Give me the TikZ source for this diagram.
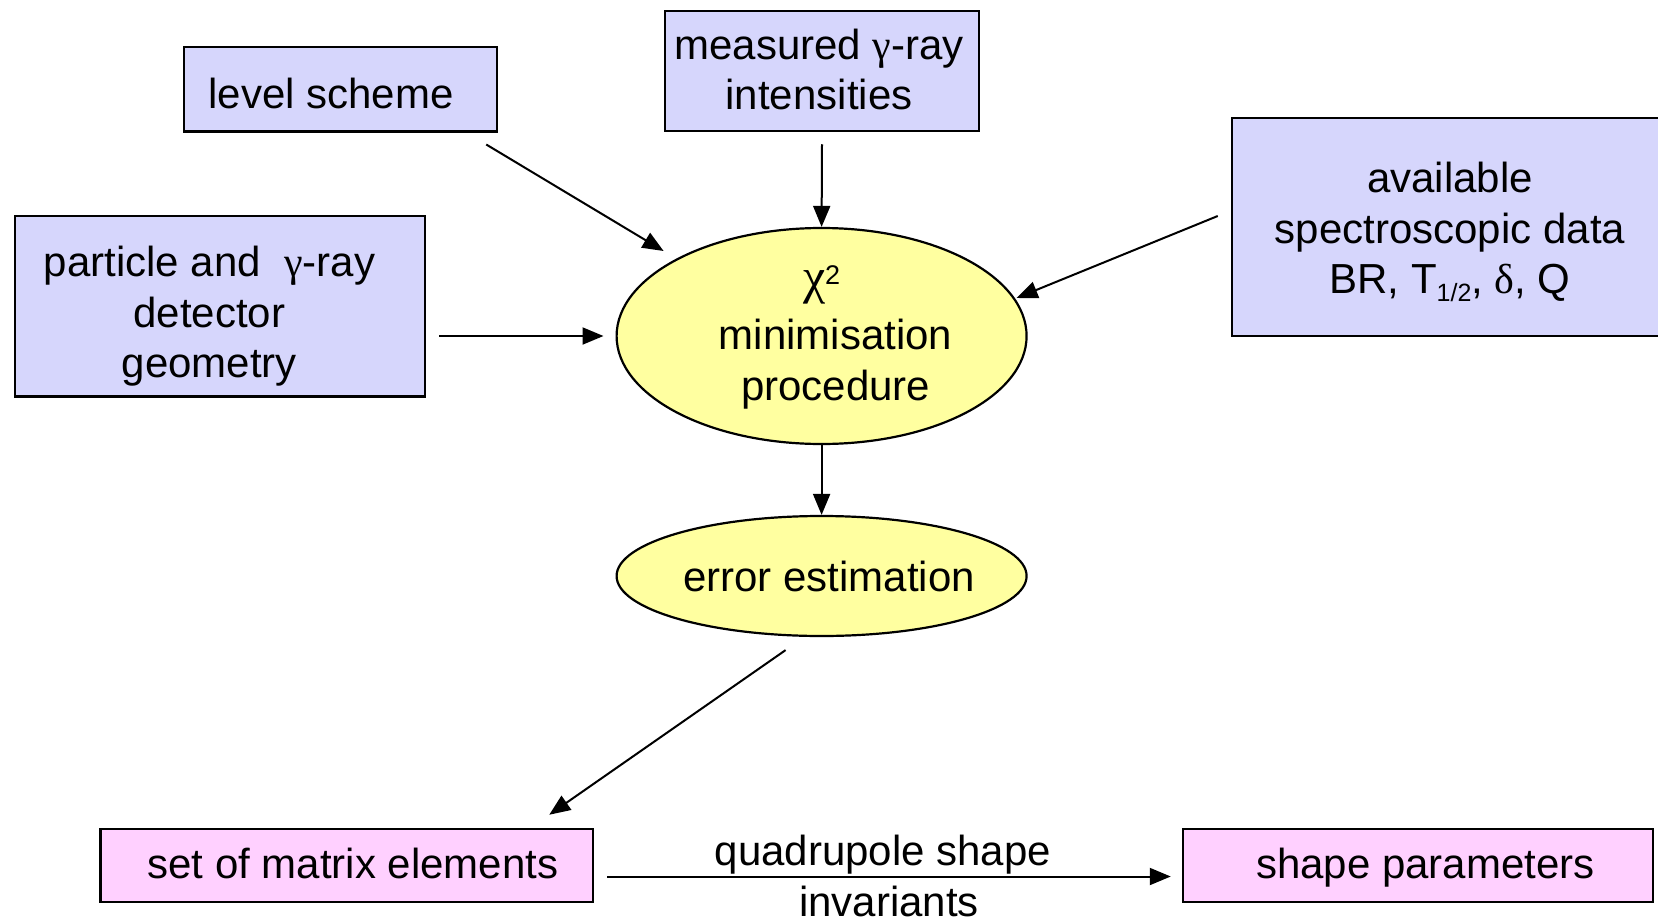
\documentclass[tikz,border=0pt]{standalone}
\usepackage{fontspec}
\setmainfont{Liberation Sans}
\newfontfamily\grk{Liberation Serif}
\usetikzlibrary{arrows.meta,shapes.geometric}
\definecolor{boxblue}{RGB}{214,214,252}
\definecolor{ellyellow}{RGB}{255,255,160}
\definecolor{boxpink}{RGB}{255,208,255}
\newcommand{\bigfont}{\fontsize{42}{50.5}\selectfont}
\begin{document}
\begin{tikzpicture}[x=1pt,y=-1pt,
  inbox/.style={draw=black, line width=2.5pt, fill=boxblue, inner sep=0pt},
  outbox/.style={draw=black, line width=2.5pt, fill=boxpink, inner sep=0pt},
  proc/.style={draw=black, line width=2.2pt, fill=ellyellow, ellipse, inner sep=0pt},
  txt/.style={align=center, font=\bigfont, inner sep=0pt},
  arr/.style={line width=2pt, -{Triangle[length=21pt,width=17pt]}},
  lbl/.style={font=\bigfont, inner sep=1pt}]
\useasboundingbox (0,0) rectangle (1658,918);
\fill[white] (0,0) rectangle (1658,918);
% shapes
\node[inbox, minimum width=313pt, minimum height=84.5pt] (level) at (340.5,89) {};
\node[inbox, minimum width=314pt, minimum height=120pt] (meas) at (822,71) {};
\node[inbox, minimum width=430pt, minimum height=218pt] (avail) at (1447,227) {};
\node[inbox, minimum width=410pt, minimum height=180.5pt] (part) at (220,306) {};
\node[proc, minimum width=410pt, minimum height=216pt] (chi) at (821.6,336) {};
\node[proc, minimum width=410pt, minimum height=120pt] (err) at (821.6,576) {};
\node[outbox, minimum width=492.5pt, minimum height=73pt] (set) at (346.75,865.5) {};
\node[outbox, minimum width=470pt, minimum height=73pt] (shape) at (1418,865.5) {};
% texts
\node[txt] (levelt) at (331,93) {level scheme};
\node[txt] (meast) at (819,69.5) {measured {\grk γ}-ray\\intensities};
\node[txt] (availt) at (1450,232) {available\\spectroscopic data\\BR, T\raisebox{-0.35ex}{\fontsize{25}{25}\selectfont 1/2}, {\grk δ}, Q};
\node[txt] (partt) at (209.4,316.6) {particle and \ {\grk γ}-ray\\detector\\geometry};
\node[txt] (chit) at (835.6,337) {{\grk\fontsize{50}{50}\selectfont χ}\raisebox{9pt}{\fontsize{27}{27}\selectfont 2}\hspace*{28pt}\\[6pt]minimisation\\procedure};
\node[txt] (errt) at (829,576) {error estimation};
\node[txt] (sett) at (353,863.4) {set of matrix elements};
\node[txt] (shapet) at (1425.4,867.6) {shape parameters};
% connectors
\draw[arr] ([shift={(-12,12)}]level.south east) -- ([shift={(-158,-85)}]chi.center);
\draw[arr] ([shift={(0,12)}]meas.south) -- (chi.north);
\draw[arr] ([shift={(-13,-11)}]avail.west) -- ([shift={(195,-38)}]chi.center);
\draw[arr] ([shift={(13,30)}]part.east) -- ([shift={(-12,0)}]chi.west);
\draw[arr] (chi.south) -- (err.north);
\draw[arr] ([shift={(-36,13)}]err.south) -- ([shift={(-45,-13)}]set.north east);
\draw[arr] ([shift={(13,11)}]set.east) -- node[lbl, above, xshift=-6pt] (q1) {quadrupole shape} node[lbl, below, yshift=-7.5pt] (q2) {invariants} ([shift={(-11,11)}]shape.west);
\end{tikzpicture}
\end{document}
